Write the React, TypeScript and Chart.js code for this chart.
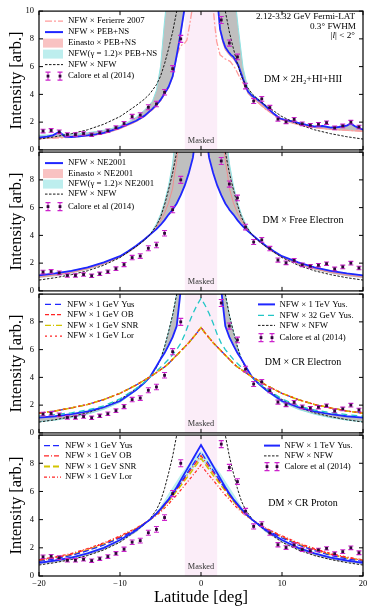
import React, { useEffect, useRef } from "react";
import { Chart, registerables } from "chart.js";
Chart.register(...registerables);

const SERIF = "'Liberation Serif', 'Times New Roman', serif";
Chart.defaults.font.family = SERIF;

// ---------------- data ----------------
const CAL_LAT = [-19.5, -18.5, -17.5, -16.5, -15.5, -14.5, -13.5, -12.5, -11.5, -10.5, -9.5, -8.5, -7.5, -6.5, -5.5, -4.5, -3.5, -2.5,
  2.5, 3.5, 4.5, 5.5, 6.5, 7.5, 8.5, 9.5, 10.5, 11.5, 12.5, 13.5, 14.5, 15.5, 16.5, 17.5, 18.5, 19.5];
const CAL_VAL = [1.36, 1.4, 1.3, 1.11, 1.11, 1.18, 1.09, 1.23, 1.38, 1.6, 1.9, 2.4, 2.51, 3.07, 3.31, 4.15, 5.85, 8.0,
  9.36, 7.7, 6.7, 4.6, 3.52, 3.68, 3.05, 2.22, 2.02, 2.2, 1.88, 1.78, 1.85, 1.96, 1.58, 1.73, 2.0, 1.65];
const CAL_ERR = [0.13, 0.13, 0.13, 0.12, 0.12, 0.12, 0.12, 0.12, 0.13, 0.13, 0.15, 0.16, 0.17, 0.18, 0.2, 0.2, 0.22, 0.25,
  0.25, 0.22, 0.2, 0.2, 0.18, 0.17, 0.16, 0.15, 0.13, 0.13, 0.13, 0.12, 0.12, 0.12, 0.13, 0.13, 0.13, 0.13];

const NFWNFW_LAT = [2.5, 3.0, 3.5, 4.0, 4.5, 5.0, 5.5, 6.3, 7, 8, 9, 10, 12, 14, 16, 18, 20];
const NFWNFW = [13.5, 10.0, 8.5, 7.3, 6.2, 5.3, 4.7, 4.05, 3.65, 3.2, 2.8, 2.4, 1.85, 1.45, 1.17, 0.95, 0.78];

// panel 1 : DM x 2H2+HI+HII
const P1_L_LAT = [-20, -19, -18.3, -17.5, -16.8, -16, -15, -14, -13, -12, -11, -10, -9, -8, -7, -6, -5.5, -5, -4.5, -4, -3.5, -3, -2.6, -2.3, -2.0];
const P1_BLUE_L = [0.88, 0.95, 1.05, 1.3, 0.95, 0.93, 0.98, 1.04, 1.12, 1.22, 1.4, 1.6, 1.85, 2.1, 2.45, 2.95, 3.25, 3.6, 4.07, 4.55, 5.3, 6.8, 8.1, 9.2, 10.3];
const P1_LO_L = [0.8, 0.83, 0.86, 0.9, 0.9, 0.92, 0.96, 1.0, 1.07, 1.17, 1.33, 1.52, 1.77, 2.03, 2.38, 2.88, 3.18, 3.52, 4.0, 4.5, 5.25, 6.7, 8.0, 9.1, 10.3];
const P1_HI_L = [1.05, 1.07, 1.08, 1.3, 1.1, 1.12, 1.17, 1.24, 1.32, 1.42, 1.55, 1.75, 2.0, 2.35, 2.85, 3.5, 4.3, 6.0, 9.3, 12, 12, 12, 12, 12, 12];
const P1_R_LAT = [2.1, 2.35, 2.7, 3.0, 3.4, 3.7, 4.0, 4.6, 5.2, 5.8, 6.3, 6.9, 7.5, 8.1, 9, 9.75, 10.5, 11.4, 12, 13, 14, 15, 16, 17, 18, 18.5, 19, 20];
const P1_BLUE_R = [10.3, 8.7, 7.9, 7.4, 7.05, 6.85, 6.7, 6.1, 5.1, 4.2, 3.9, 3.67, 3.4, 3.08, 2.6, 2.26, 2.15, 2.03, 1.95, 1.8, 1.68, 1.72, 1.6, 1.65, 1.75, 1.9, 1.7, 1.45];
const P1_LO_R = [10.3, 8.6, 7.7, 7.2, 6.9, 6.7, 6.55, 6.0, 5.0, 4.05, 3.75, 3.45, 3.15, 2.88, 2.5, 2.2, 2.05, 1.9, 1.82, 1.7, 1.6, 1.53, 1.47, 1.43, 1.4, 1.38, 1.36, 1.33];
const P1_HI_R = [12, 12, 12, 12, 12, 12, 12, 8.8, 5.9, 4.4, 4.0, 3.75, 3.45, 3.12, 2.65, 2.3, 2.18, 2.06, 1.98, 1.83, 1.72, 1.75, 1.64, 1.68, 1.78, 1.92, 1.73, 1.5];
const P1_FER_L_LAT = [-20, -16, -12, -10, -8, -6, -5, -4.5, -4, -3.5, -3, -2.6, -2.3, -2.0, -1.75, -1.4, -1.05];
const P1_FER_L = [0.82, 0.9, 1.18, 1.55, 2.05, 2.9, 3.55, 4.0, 4.5, 5.25, 6.75, 7.4, 7.6, 7.7, 7.9, 9.0, 10.3];
const P1_FER_R_LAT = [1.5, 1.7, 1.94, 2.35, 3.0, 3.6, 4.2, 4.8, 5.4, 6, 7, 8, 10, 12, 14, 16, 18, 20];
const P1_FER_R = [10.3, 9.0, 7.8, 6.85, 6.55, 6.38, 5.9, 5.2, 4.6, 4.05, 3.48, 2.92, 2.18, 1.84, 1.62, 1.5, 1.42, 1.35];

// panel 2 : DM x Free Electron (symmetric, |latitude|)
const P2_LAT = [0.8, 1.0, 1.5, 2.0, 2.5, 3.0, 3.35, 3.5, 4.0, 4.5, 5.0, 5.5, 6.3, 7, 8, 9, 10, 12, 14, 16, 18, 20];
const P2_BLUE = [10.5, 9.6, 8.5, 7.6, 6.9, 6.3, 6.0, 5.85, 5.5, 5.1, 4.75, 4.45, 4.05, 3.7, 3.25, 2.85, 2.5, 2.05, 1.7, 1.45, 1.27, 1.12];
const P2_LO = [10.5, 9.6, 8.5, 7.6, 6.9, 6.3, 6.0, 5.85, 5.5, 5.1, 4.75, 4.45, 4.0, 3.62, 3.12, 2.72, 2.38, 1.88, 1.52, 1.25, 1.06, 0.93];
const P2_HI = [14, 14, 14, 14, 14, 12, 10.0, 9.2, 7.6, 6.4, 5.5, 4.85, 4.05, 3.7, 3.25, 2.85, 2.5, 2.05, 1.7, 1.45, 1.27, 1.12];
const P2_PINK = [14, 14, 14, 14, 12, 9.4, 8.1, 7.4, 6.35, 5.6, 5.05, 4.6, 4.03, 3.66, 3.18, 2.78, 2.44, 1.96, 1.6, 1.34, 1.15, 1.0];

// panels 3 and 4 (symmetric, |latitude|)
const P34_LAT = [0, 0.5, 1, 1.5, 2, 2.5, 3, 3.5, 4, 4.5, 5, 5.5, 6.3, 7, 8, 10, 12, 14, 16, 18, 20];
const P3_1GEV = [7.6, 7.2, 6.85, 6.5, 6.2, 5.9, 5.6, 5.3, 5.0, 4.75, 4.55, 4.35, 4.03, 3.8, 3.45, 2.85, 2.4, 2.05, 1.8, 1.58, 1.42];
const P3_32GEV = [9.7, 9.2, 8.6, 7.9, 7.1, 6.45, 6.0, 5.65, 5.3, 5.0, 4.72, 4.45, 4.03, 3.65, 3.2, 2.45, 1.95, 1.65, 1.45, 1.32, 1.2];
const P3_TEV = [16, 15, 14, 13, 12, 10.3, 7.7, 6.9, 6.3, 5.75, 5.3, 4.8, 4.03, 3.6, 3.1, 2.3, 1.85, 1.55, 1.35, 1.2, 1.1];
const P3_EDGE = [20, 20, 20, 20, 20, 13.5, 10.0, 8.5, 7.3, 6.2, 5.3, 4.7, 4.03, 3.55, 3.05, 2.2, 1.7, 1.35, 1.1, 0.92, 0.8];

const P4_TEV = [9.3, 8.8, 8.3, 7.8, 7.3, 6.8, 6.3, 5.85, 5.45, 5.1, 4.75, 4.45, 4.0, 3.7, 3.25, 2.55, 2.0, 1.6, 1.3, 1.1, 0.93];
const P4_YUS = [8.8, 8.35, 7.9, 7.5, 7.05, 6.6, 6.2, 5.8, 5.4, 5.05, 4.72, 4.42, 4.0, 3.7, 3.3, 2.7, 2.2, 1.8, 1.45, 1.22, 1.03];
const P4_OB = [8.55, 8.15, 7.75, 7.35, 6.95, 6.55, 6.15, 5.75, 5.35, 5.0, 4.7, 4.4, 4.0, 3.72, 3.35, 2.78, 2.3, 1.9, 1.55, 1.3, 1.12];
const P4_SNR = [8.35, 7.95, 7.55, 7.15, 6.8, 6.4, 6.05, 5.65, 5.3, 4.97, 4.66, 4.38, 4.0, 3.72, 3.35, 2.75, 2.25, 1.85, 1.5, 1.27, 1.08];
const P4_LOR = [7.9, 7.5, 7.15, 6.8, 6.45, 6.1, 5.75, 5.45, 5.1, 4.82, 4.55, 4.3, 4.0, 3.75, 3.4, 2.85, 2.35, 1.95, 1.6, 1.35, 1.15];
const P4_CYAN_HI = [8.9, 8.6, 8.3, 7.95, 7.6, 7.2, 6.75, 6.3, 5.85, 5.4, 4.95, 4.55, 4.0, 3.65, 3.2, 2.6, 2.1, 1.7, 1.38, 1.15, 0.97];
const P4_CYAN_LO = [8.3, 7.95, 7.6, 7.25, 6.9, 6.5, 6.1, 5.7, 5.35, 5.0, 4.7, 4.4, 4.0, 3.6, 3.1, 2.45, 1.95, 1.55, 1.25, 1.05, 0.88];
const P4_GRAY_LO = [9.3, 8.8, 8.3, 7.8, 7.3, 6.8, 6.3, 5.85, 5.45, 5.1, 4.75, 4.45, 4.0, 3.6, 3.1, 2.4, 1.85, 1.45, 1.15, 0.97, 0.84];

const X_TICKS = [-20, -10, 0, 10, 20];
const Y_TICKS = [0, 2, 4, 6, 8, 10];
const MASK_EDGES = [-2, 2];

// ---------------- styles ----------------
const BLUE = "#1f26ff";
const RED = "#ff2424";
const YELLOW = "#d2c400";
const CYAN = "#22c6c6";
const PINK_LINE = "#ff9c9c";
const BLACK = "#1a1a1a";
const GRAY_FILL = "#bfbfbf";
const CYAN_FILL = "#bdeeee";
const PINK_FILL = "#f9c2c2";
const MASK_COLOR = "#fbedf8";
const ERR_COLOR = "#cc22cc";
const MARK_COLOR = "#2e0838";

type P = { x: number; y: number };
const pts = (lat: number[], v: number[]): P[] => lat.map((x, i) => ({ x, y: v[i] }));
const sym = (absLat: number[], v: number[]): P[] => {
  const out: P[] = [];
  for (let i = absLat.length - 1; i >= 0; i--) if (absLat[i] !== 0) out.push({ x: -absLat[i], y: v[i] });
  for (let i = 0; i < absLat.length; i++) out.push({ x: absLat[i], y: v[i] });
  return out;
};

const ln = (data: P[], color: string, width: number, dash: number[], order: number) => ({
  type: "line", data, borderColor: color, borderWidth: width, borderDash: dash,
  pointRadius: 0, fill: false, tension: 0, order, borderCapStyle: "butt",
});
const band = (lo: P[], hi: P[], fillColor: string, loColor: string, hiColor: string, order: number) => [
  ln(lo, loColor, 1, [], order),
  { ...ln(hi, hiColor, 1, [], order), fill: "-1", backgroundColor: fillColor },
];
const calore = () => ({
  type: "line", data: pts(CAL_LAT, CAL_VAL), showLine: false, pointRadius: 2, pointStyle: "rect",
  pointBackgroundColor: MARK_COLOR, pointBorderColor: MARK_COLOR, pointBorderWidth: 0, order: 0, errs: CAL_ERR,
});
const nfwnfw = (order: number) => ln(sym(NFWNFW_LAT, NFWNFW), BLACK, 1, [2.5, 1.5], order);

type Item = { text: string; kind: "line" | "rect" | "err"; color?: string; width?: number; dash?: number[]; dy: number };
type Col = { x0: number; x1: number; tx: number; items: Item[] };
type Spec = {
  top: number; height: number; padTop: number; padBottom: number; showX: boolean; showTen: boolean;
  datasets: any[]; cols: Col[]; label: string; notes?: boolean;
};

const CAL_ITEM = (dy: number): Item => ({ text: "Calore et al (2014)", kind: "err", dy });
const NN_ITEM = (dy: number): Item => ({ text: "NFW × NFW", kind: "line", color: BLACK, width: 1, dash: [2.5, 1.5], dy });

const SPECS: Spec[] = [
  {
    top: 1, height: 159, padTop: 9, padBottom: 8.5, showX: false, showTen: true,
    label: "DM × 2H₂+HI+HII", notes: true,
    datasets: [
      calore(),
      nfwnfw(1),
      ln([...pts(P1_L_LAT, P1_BLUE_L), ...pts(P1_R_LAT, P1_BLUE_R)], BLUE, 1.8, [], 2),
      ln([...pts(P1_FER_L_LAT, P1_FER_L), ...pts(P1_FER_R_LAT, P1_FER_R)], PINK_LINE, 1.3, [7, 2, 2, 2], 3),
      ...band([...pts(P1_L_LAT, P1_LO_L), ...pts(P1_R_LAT, P1_LO_R)], [...pts(P1_L_LAT, P1_HI_L), ...pts(P1_R_LAT, P1_HI_R)],
        GRAY_FILL, "#f2a8a8", "#8fe3e3", 6),
    ],
    cols: [{
      x0: 45, x1: 63, tx: 68, items: [
        { text: "NFW × Ferierre 2007", kind: "line", color: PINK_LINE, width: 1.3, dash: [7, 2, 2, 2], dy: 10 },
        { text: "NFW × PEB+NS", kind: "line", color: BLUE, width: 2, dy: 21 },
        { text: "Einasto × PEB+NS", kind: "rect", color: PINK_FILL, dy: 32 },
        { text: "NFW(γ = 1.2)× PEB+NS", kind: "rect", color: CYAN_FILL, dy: 43 },
        NN_ITEM(53.5),
        CAL_ITEM(65),
      ],
    }],
  },
  {
    top: 142, height: 159, padTop: 9.5, padBottom: 8, showX: false, showTen: false,
    label: "DM × Free Electron",
    datasets: [
      calore(),
      nfwnfw(1),
      ln(sym(P2_LAT, P2_BLUE), BLUE, 1.8, [], 2),
      ln(sym(P2_LAT, P2_PINK), "#f09090", 1, [], 3),
      ...band(sym(P2_LAT, P2_LO), sym(P2_LAT, P2_HI), GRAY_FILL, "rgba(0,0,0,0)", "#8fe3e3", 6),
    ],
    cols: [{
      x0: 45, x1: 63, tx: 68, items: [
        { text: "NFW × NE2001", kind: "line", color: BLUE, width: 2, dy: 11 },
        { text: "Einasto × NE2001", kind: "rect", color: PINK_FILL, dy: 21.5 },
        { text: "NFW(γ = 1.2)× NE2001", kind: "rect", color: CYAN_FILL, dy: 32 },
        NN_ITEM(42),
        CAL_ITEM(54.5),
      ],
    }],
  },
  {
    top: 284, height: 159, padTop: 9, padBottom: 8.5, showX: false, showTen: false,
    label: "DM × CR Electron",
    datasets: [
      calore(),
      ln(sym(P34_LAT, P3_1GEV), RED, 1.2, [2, 3], 1),
      ln(sym(P34_LAT, P3_1GEV), YELLOW, 1.5, [6, 2], 2),
      ln(sym(P34_LAT, P3_1GEV), "#ff4a1a", 1.4, [4, 4], 3),
      ln(sym(P34_LAT, P3_1GEV), BLUE, 1.2, [6, 4], 4),
      ln(sym(P34_LAT, P3_32GEV), CYAN, 1.3, [6, 4], 5),
      ln(sym(P34_LAT, P3_TEV), BLUE, 1.8, [], 6),
      nfwnfw(6),
      ...band(sym(P34_LAT, P3_TEV), sym(P34_LAT, P3_EDGE), GRAY_FILL, "rgba(0,0,0,0)", "#8fe3e3", 8),
    ],
    cols: [
      {
        x0: 45, x1: 63, tx: 67, items: [
          { text: "NFW × 1 GeV Yus", kind: "line", color: BLUE, width: 1.3, dash: [6, 4], dy: 10.3 },
          { text: "NFW × 1 GeV OB", kind: "line", color: RED, width: 1.3, dash: [4, 2], dy: 20.5 },
          { text: "NFW × 1 GeV SNR", kind: "line", color: YELLOW, width: 1.3, dash: [6, 2, 1, 2], dy: 31.2 },
          { text: "NFW × 1 GeV Lor", kind: "line", color: RED, width: 1.3, dash: [2, 3], dy: 42 },
        ],
      },
      {
        x0: 258, x1: 275, tx: 279.5, items: [
          { text: "NFW × 1 TeV Yus.", kind: "line", color: BLUE, width: 2, dy: 10.3 },
          { text: "NFW × 32 GeV Yus.", kind: "line", color: CYAN, width: 1.3, dash: [6, 4], dy: 21.2 },
          NN_ITEM(31.3),
          CAL_ITEM(43.5),
        ],
      },
    ],
  },
  {
    top: 425, height: 189, padTop: 9.5, padBottom: 0, showX: true, showTen: false,
    label: "DM × CR Proton",
    datasets: [
      calore(),
      ln(sym(P34_LAT, P4_TEV), BLUE, 1.8, [], 1),
      ln(sym(P34_LAT, P4_YUS), BLUE, 1.2, [6, 3], 2),
      ln(sym(P34_LAT, P4_OB), RED, 1.2, [5, 2, 1, 2], 3),
      ln(sym(P34_LAT, P4_SNR), YELLOW, 1.5, [6, 3], 4),
      ln(sym(P34_LAT, P4_LOR), RED, 1.2, [3, 2, 1, 2], 5),
      nfwnfw(6),
      ...band(sym(P34_LAT, P4_CYAN_LO), sym(P34_LAT, P4_CYAN_HI), CYAN_FILL, "rgba(0,0,0,0)", "rgba(0,0,0,0)", 8),
      ...band(sym(P34_LAT, P4_GRAY_LO), sym(P34_LAT, P4_TEV), GRAY_FILL, "rgba(0,0,0,0)", "rgba(0,0,0,0)", 9),
    ],
    cols: [
      {
        x0: 44, x1: 61, tx: 65, items: [
          { text: "NFW × 1 GeV Yus", kind: "line", color: BLUE, width: 1.3, dash: [6, 3], dy: 10.5 },
          { text: "NFW × 1 GeV OB", kind: "line", color: RED, width: 1.3, dash: [5, 2, 1, 2], dy: 20.8 },
          { text: "NFW × 1 GeV SNR", kind: "line", color: YELLOW, width: 1.8, dash: [6, 3], dy: 31.4 },
          { text: "NFW × 1 GeV Lor", kind: "line", color: RED, width: 1.3, dash: [3, 2, 1, 2], dy: 42 },
        ],
      },
      {
        x0: 264, x1: 280, tx: 284.5, items: [
          { text: "NFW × 1 TeV Yus.", kind: "line", color: BLUE, width: 2, dy: 10.5 },
          NN_ITEM(20.8),
          CAL_ITEM(31.5),
        ],
      },
    ],
  },
];

// ---------------- drawing helpers ----------------
function errBar(ctx: CanvasRenderingContext2D, x: number, y1: number, y2: number) {
  ctx.beginPath();
  ctx.moveTo(x, y1); ctx.lineTo(x, y2);
  ctx.moveTo(x - 2.5, y1); ctx.lineTo(x + 2.5, y1);
  ctx.moveTo(x - 2.5, y2); ctx.lineTo(x + 2.5, y2);
  ctx.stroke();
}

function makeDeco(spec: Spec) {
  return {
    id: "deco",
    beforeDatasetsDraw(chart: any) {
      const { ctx, chartArea: a, scales } = chart;
      const x0 = scales.x.getPixelForValue(MASK_EDGES[0]);
      const x1 = scales.x.getPixelForValue(MASK_EDGES[1]);
      ctx.save();
      ctx.fillStyle = MASK_COLOR;
      ctx.fillRect(x0, a.top, x1 - x0, a.bottom - a.top);
      ctx.fillStyle = "#333";
      ctx.font = `8.3px ${SERIF}`;
      ctx.textAlign = "center";
      ctx.textBaseline = "middle";
      ctx.fillText("Masked", (x0 + x1) / 2, a.bottom - 9.5);
      ctx.restore();
    },
    beforeDatasetDraw(chart: any, args: any) {
      const ds = chart.data.datasets[args.index];
      if (!ds.errs) return;
      const { ctx, scales } = chart;
      ctx.save();
      ctx.strokeStyle = ERR_COLOR;
      ctx.lineWidth = 1.1;
      ds.data.forEach((p: P, i: number) => {
        const x = scales.x.getPixelForValue(p.x);
        errBar(ctx, x, scales.y.getPixelForValue(p.y + ds.errs[i]), scales.y.getPixelForValue(p.y - ds.errs[i]));
      });
      ctx.restore();
    },
    afterDraw(chart: any) {
      const { ctx, chartArea: a, scales } = chart;
      ctx.save();
      // frame + inward ticks
      ctx.strokeStyle = "#000";
      ctx.lineWidth = 1.2;
      ctx.strokeRect(a.left, a.top, a.right - a.left, a.bottom - a.top);
      ctx.lineWidth = 1;
      ctx.beginPath();
      X_TICKS.forEach((v) => {
        const x = scales.x.getPixelForValue(v);
        ctx.moveTo(x, a.bottom); ctx.lineTo(x, a.bottom - 4);
        ctx.moveTo(x, a.top); ctx.lineTo(x, a.top + 4);
      });
      Y_TICKS.forEach((v) => {
        const y = scales.y.getPixelForValue(v);
        ctx.moveTo(a.left, y); ctx.lineTo(a.left + 4, y);
        ctx.moveTo(a.right, y); ctx.lineTo(a.right - 4, y);
      });
      ctx.stroke();

      // legends
      ctx.textAlign = "left";
      ctx.textBaseline = "middle";
      spec.cols.forEach((col) => {
        col.items.forEach((it) => {
          const y = a.top + it.dy;
          if (it.kind === "line") {
            ctx.strokeStyle = it.color!;
            ctx.lineWidth = it.width!;
            ctx.setLineDash(it.dash || []);
            ctx.beginPath(); ctx.moveTo(col.x0, y); ctx.lineTo(col.x1, y); ctx.stroke();
            ctx.setLineDash([]);
          } else if (it.kind === "rect") {
            ctx.fillStyle = it.color!;
            ctx.fillRect(col.x0 - 2, y - 4.5, col.x1 - col.x0 + 2, 9);
          } else {
            ctx.strokeStyle = ERR_COLOR;
            ctx.lineWidth = 1.1;
            [col.x0 + 3, col.x1 - 3].forEach((mx) => {
              errBar(ctx, mx, y - 4, y + 4);
              ctx.fillStyle = MARK_COLOR;
              ctx.fillRect(mx - 1.4, y - 1.4, 2.8, 2.8);
            });
          }
          ctx.fillStyle = "#000";
          ctx.font = `8.8px ${SERIF}`;
          ctx.fillText(it.text, col.tx, y);
        });
      });

      // panel label
      ctx.font = `10px ${SERIF}`;
      ctx.textAlign = "center";
      ctx.fillStyle = "#000";
      ctx.fillText(spec.label, 303, a.top + 68.3);

      if (spec.notes) {
        ctx.font = `9.2px ${SERIF}`;
        ctx.textAlign = "right";
        ctx.fillText("2.12-3.32 GeV Fermi-LAT", 355, a.top + 5.7);
        ctx.fillText("0.3° FWHM", 356, a.top + 15);
        const rest = "| < 2°";
        const wRest = ctx.measureText(rest).width;
        ctx.fillText(rest, 355, a.top + 24.5);
        ctx.font = `italic 9.2px ${SERIF}`;
        const wl = ctx.measureText("l").width;
        ctx.fillText("l", 355 - wRest, a.top + 24.5);
        ctx.font = `9.2px ${SERIF}`;
        ctx.fillText("|", 355 - wRest - wl - 0.3, a.top + 24.5);
      }
      ctx.restore();
    },
  };
}

function makeConfig(spec: Spec): any {
  return {
    type: "line",
    data: { datasets: spec.datasets },
    options: {
      animation: false,
      responsive: false,
      maintainAspectRatio: false,
      events: [],
      layout: { padding: { top: spec.padTop, bottom: spec.padBottom, left: 0, right: 11 } },
      scales: {
        x: {
          type: "linear", min: -20, max: 20, display: spec.showX,
          grid: { display: false, drawTicks: false }, border: { display: false },
          ticks: {
            stepSize: 10, padding: 3, maxRotation: 0, color: "#000", font: { family: SERIF, size: 8.5 },
            callback: (v: number) => (v < 0 ? "−" + Math.abs(v) : String(v)),
          },
          title: { display: spec.showX, text: "Latitude [deg]", color: "#000", font: { family: SERIF, size: 16.5 }, padding: { top: 0, bottom: 6 } },
          afterFit: (s: any) => { s.height = spec.showX ? 38 : 0; },
        },
        y: {
          type: "linear", min: 0, max: 10,
          grid: { display: false, drawTicks: false }, border: { display: false },
          ticks: {
            stepSize: 2, padding: 5, color: "#000", font: { family: SERIF, size: 8.5 },
            callback: (v: number) => (v === 10 && !spec.showTen ? "" : String(v)),
          },
          title: { display: true, text: "Intensity [arb.]", color: "#000", font: { family: SERIF, size: 16.5 }, padding: { top: 7, bottom: 0 } },
          afterFit: (s: any) => { s.width = 39; },
        },
      },
      plugins: { legend: { display: false }, tooltip: { enabled: false } },
    },
    plugins: [makeDeco(spec)],
  };
}

function Panel({ spec }: { spec: Spec }) {
  const ref = useRef<HTMLCanvasElement>(null);
  useEffect(() => {
    const chart = new Chart(ref.current as HTMLCanvasElement, makeConfig(spec));
    return () => chart.destroy();
  }, []);
  return (
    <canvas
      ref={ref}
      width={374}
      height={spec.height}
      style={{ position: "absolute", left: 0, top: spec.top, width: 374, height: spec.height }}
    />
  );
}

export default function App() {
  return (
    <div style={{ position: "fixed", left: 0, top: 0, width: 374, height: 614, background: "#fff", overflow: "hidden" }}>
      {SPECS.map((s, i) => (
        <Panel key={i} spec={s} />
      ))}
    </div>
  );
}
